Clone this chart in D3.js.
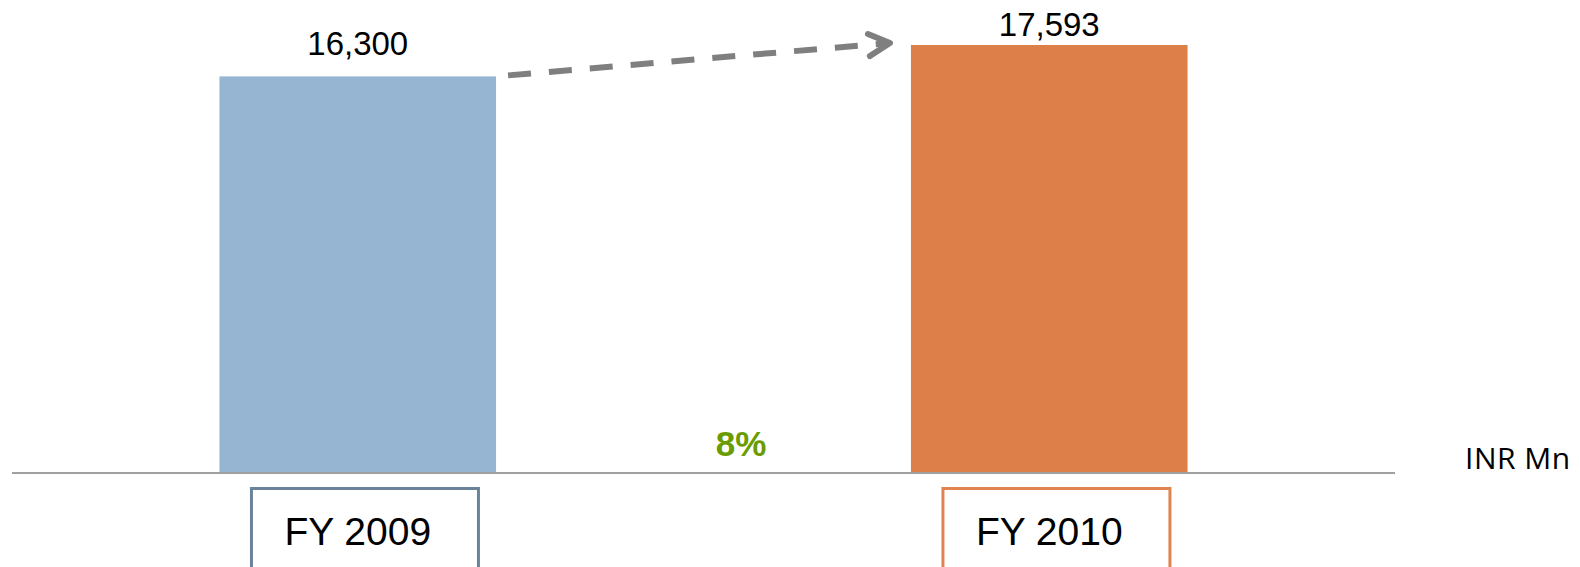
<!DOCTYPE html>
<html>
<head>
<meta charset="utf-8">
<script src="https://cdn.jsdelivr.net/npm/d3@7"></script>
<style>
  html, body { margin: 0; padding: 0; background: #fff; overflow: hidden; }
  text { font-family: "Liberation Sans", Arial, sans-serif; }
</style>
</head>
<body>
<svg id="chart"></svg>
<script>
// chart data
var years = ['FY 2009', 'FY 2010'];
var revenue = [16300, 17593];
var valueLabels = ['16,300', '17,593'];
var unitLabel = 'INR Mn';

var width = 1580, height = 567;
var barColors = ['#95b5d3', '#dd7f48'];
var boxColors = ['#6b8399', '#e0844f'];

var svg = d3.select('#chart')
    .attr('width', width)
    .attr('height', height);

// x scale for the two bars
var x = d3.scaleBand()
    .domain(years)
    .range([12, 1395])
    .paddingInner(0.6)
    .paddingOuter(0.3);

// y scale, baseline at the axis line
var y = d3.scaleLinear()
    .domain([0, d3.max(revenue)])
    .range([472, 45]);

// bars
svg.selectAll('rect.bar')
    .data(revenue)
    .enter()
    .append('rect')
    .attr('class', 'bar')
    .attr('x', function (d, i) { return x(years[i]); })
    .attr('y', function (d) { return y(d); })
    .attr('width', x.bandwidth())
    .attr('height', function (d) { return y(0) - y(d); })
    .attr('fill', function (d, i) { return barColors[i]; });

// baseline
svg.append('line')
    .attr('x1', 12)
    .attr('x2', 1395)
    .attr('y1', y(0) + 1)
    .attr('y2', y(0) + 1)
    .attr('stroke', '#a0a0a0')
    .attr('stroke-width', 2);

// value labels above bars
svg.selectAll('text.value')
    .data(revenue)
    .enter()
    .append('text')
    .attr('class', 'value')
    .attr('x', function (d, i) { return x(years[i]) + x.bandwidth() / 2; })
    .attr('y', function (d) { return Math.max(y(d) - 21, 36); })
    .attr('text-anchor', 'middle')
    .attr('font-size', 33)
    .attr('fill', '#000')
    .text(function (d, i) { return valueLabels[i]; });

// dashed growth arrow from first bar top to second bar top
var x1 = x(years[0]) + x.bandwidth() + 12, y1 = y(revenue[0]) - 1;
var x2 = x(years[1]) - 21, y2 = y(revenue[1]) - 2;
svg.append('line')
    .attr('x1', x1).attr('y1', y1)
    .attr('x2', x2 - 6).attr('y2', y2 + 0.5)
    .attr('stroke', '#7f7f7f')
    .attr('stroke-width', 6)
    .attr('stroke-dasharray', '23,18');

svg.append('path')
    .attr('d', 'M' + (x2 - 22) + ',' + (y2 - 9) + 'L' + x2 + ',' + y2 + 'L' + (x2 - 20) + ',' + (y2 + 13))
    .attr('fill', 'none')
    .attr('stroke', '#7f7f7f')
    .attr('stroke-width', 6)
    .attr('stroke-linecap', 'round')
    .attr('stroke-linejoin', 'round');

// growth percentage
var growth = Math.round((revenue[1] / revenue[0] - 1) * 100);
svg.append('text')
    .attr('x', 741)
    .attr('y', 456)
    .attr('text-anchor', 'middle')
    .attr('font-size', 35)
    .attr('font-weight', 'bold')
    .attr('fill', '#6a9b00')
    .text(growth + '%');

// unit label
svg.append('text')
    .attr('x', 1465)
    .attr('y', 469)
    .style('font-family', '"Open Sans", sans-serif')
    .style('letter-spacing', '0.5px')
    .attr('font-size', 30)
    .attr('fill', '#000')
    .text(unitLabel);

// year boxes below the axis
svg.selectAll('rect.box')
    .data(years)
    .enter()
    .append('rect')
    .attr('class', 'box')
    .attr('x', function (d) { return x(d) + 32; })
    .attr('y', 488.5)
    .attr('width', 227)
    .attr('height', 120)
    .attr('fill', 'none')
    .attr('stroke', function (d, i) { return boxColors[i]; })
    .attr('stroke-width', 3);

svg.selectAll('text.year')
    .data(years)
    .enter()
    .append('text')
    .attr('class', 'year')
    .attr('x', function (d) { return x(d) + x.bandwidth() / 2; })
    .attr('y', 545)
    .attr('text-anchor', 'middle')
    .attr('font-size', 39)
    .attr('fill', '#000')
    .text(function (d) { return d; });
</script>
</body>
</html>
